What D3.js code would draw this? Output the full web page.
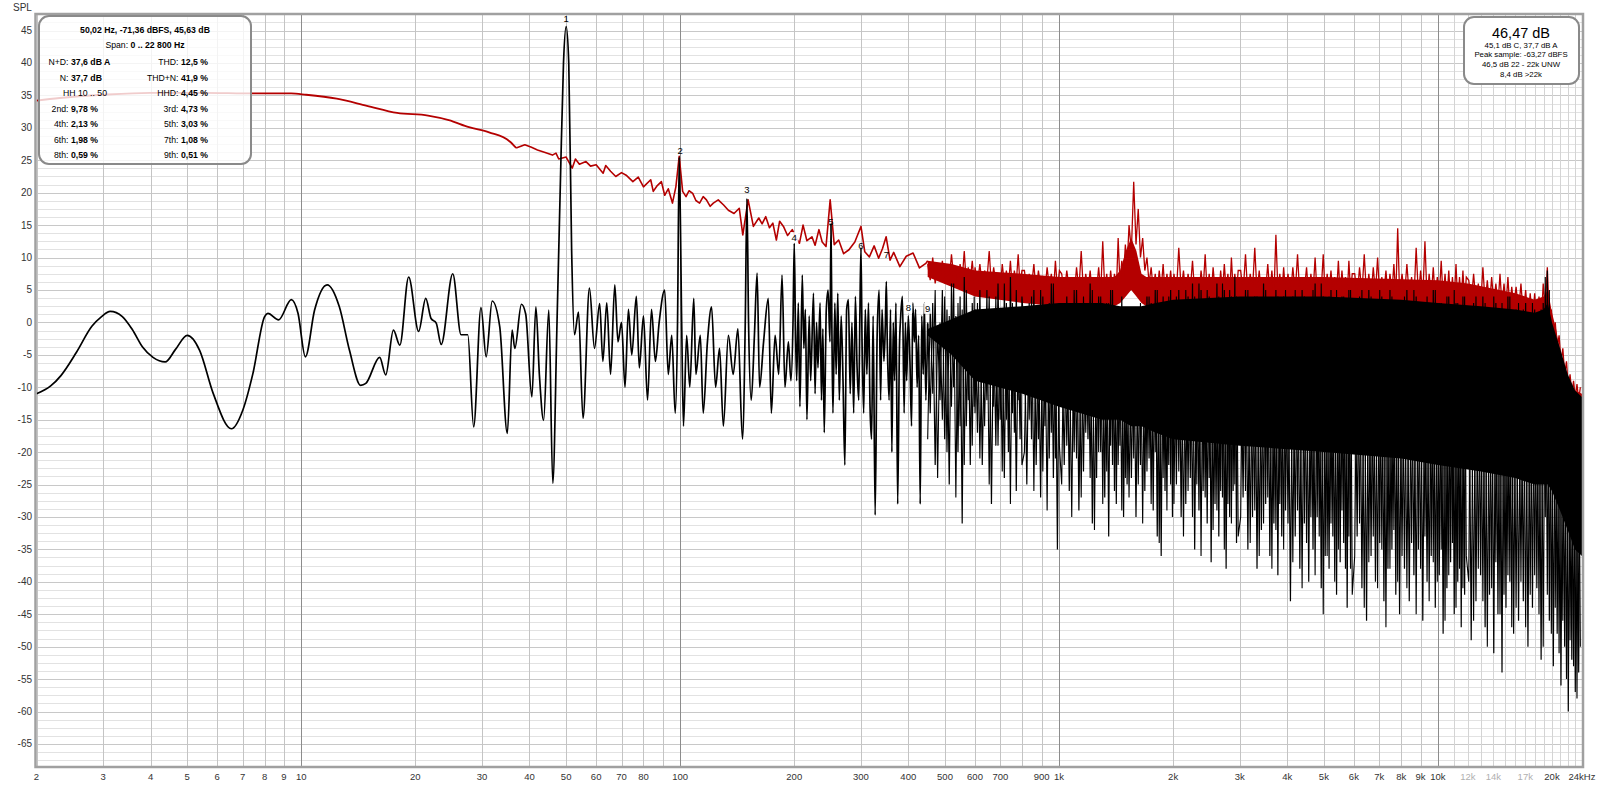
<!DOCTYPE html>
<html><head><meta charset="utf-8">
<script src="https://cdn.jsdelivr.net/npm/d3@7"></script>
<style>
html,body{margin:0;padding:0;background:#fff;}
svg{display:block;font-family:"Liberation Sans",Arial,sans-serif;}
</style></head><body>
<svg id="chart" width="1600" height="787"></svg>
<script>
// ---------------- DATA ----------------
const xTickFreqs  = [2,3,4,5,6,7,8,9,10,20,30,40,50,60,70,80,100,200,300,400,500,600,700,900,1000,2000,3000,4000,5000,6000,7000,8000,9000,10000,12000,14000,17000,20000,24000];
const xTickLabels = ["2","3","4","5","6","7","8","9","10","20","30","40","50","60","70","80","100","200","300","400","500","600","700","900","1k","2k","3k","4k","5k","6k","7k","8k","9k","10k","12k","14k","17k","20k","24kHz"];
const xTickMuted  = ["12k","14k","17k"];
const yTicks = [45,40,35,30,25,20,15,10,5,0,-5,-10,-15,-20,-25,-30,-35,-40,-45,-50,-55,-60,-65];

// red trace, smooth low part (Hz, dB)
const redSmoothF  = [2,2.3,3,4,5.5,7.5,9.4,10.3,12.4,14.9,17.9,21.6,24.5,27.7,31.3,35.5,36.9];
const redSmoothDb = [34.2,34.6,35.1,35.4,35.4,35.3,35.3,35.1,34.5,33.4,32.3,31.9,31.2,30.1,29.3,27.9,26.9];
// red trace, wiggly part 37-450 Hz
const redWigF  = [36.9,38.9,40.5,42,44,46,47,47.8,50,51.9,52.9,54.2,56.4,58,60,62.6,63.6,65.5,67.6,70,72,75,77.5,80,83.6,84.9,87,89.2,91,93,95.4,97.4,99.4,101.5,103.6,105.5,107.9,110,112.5,115,117.3,120,122.3,126,130.2,134,138.7,143.2,146.3,151.1,156,161.2,164.5,168.2,172,175.6,179.4,183,187.3,192,197.6,202,206.4,211,216,222.7,227,232.4,237,242.6,248.8,255,262,270,278.9,289,300,307,315.7,325,334,342,349.6,358,366,380,395,411.8,428,445,450];
const redWigDb = [26.9,27.4,27.0,26.6,26.2,25.8,26.1,25.2,25.5,23.8,25.2,24.4,24.8,24.1,24.3,23.0,24.2,23.3,22.5,23.1,22.7,21.7,22.4,20.9,22.0,20.2,21.1,21.7,19.6,20.6,18.4,20.9,25.6,20.2,19.4,20.3,19.9,18.8,18.4,19.4,18.9,17.9,18.4,18.9,18.1,17.3,16.8,17.6,13.5,18.9,14.8,16.1,15.2,16.3,14.6,15.3,12.7,15.6,14.8,13.4,14.3,13.1,12.2,15.0,12.6,13.2,11.9,14.3,12.4,11.7,18.9,12.0,12.7,10.6,11.2,12.4,14.8,10.9,10.1,11.8,9.9,11.4,13.2,9.6,10.8,8.6,10.2,10.7,8.4,9.1,9.5];

// black trace, low frequencies (Hz, dB)
const blackLowF  = [2,2.18,2.32,2.55,2.8,2.97,3.13,3.37,3.58,3.81,4.06,4.37,4.65,5.0,5.39,5.85,6.54,7.01,7.45,8.0,8.16,8.71,9.41,9.8,10.25,10.84,11.7,12.6,13.4,14.34,14.8,16.1,16.7,17.5,18.2,19.2,20.4,21.3,22.0,22.7,23.4,25.1,26.4,27.5,28.5,29.8,30.75,31.9,33.4,34.97,36.0,36.6,38.1,39.1,40.6,41.6,42.5,43.6,45.0,46.1,47.3,48.3,49.2,50.0,50.8,51.7,52.6,53.9,55.4,57.6,59.4,61.3];
const blackLowDb = [-11,-9.8,-8.2,-4.6,-0.6,0.9,1.7,0.9,-1.1,-3.8,-5.4,-6.1,-4.2,-2.0,-4.3,-10.9,-16.4,-13.5,-7.9,0.9,1.4,0.4,3.5,1.4,-5.3,1.9,5.8,2.4,-4.3,-9.7,-9.4,-5.4,-8.1,-1.2,-3.5,7.0,-1.4,3.7,0.6,-0.1,-3.4,7.5,-1.9,-1.9,-16.1,2.3,-5.3,3.3,-0.7,-17.1,-1.2,-4.0,2.8,1.3,-11.5,2.4,-8.1,-15.1,1.9,-24.8,0,22,40,45.6,40,11,-1.9,1.6,-14.8,5.3,-4.0,2.9];

// black trace, 60-450 Hz (Hz, dB)
const blackMidF  = [62.5,64,65.5,67.2,68.5,70,71.5,73,74.5,76.6,78,80,82,84,86,88,91,93,95,97,98.4,99.4,100.9,102,104,106,108.6,110,113,115,118,121,124,127,130,134,138,142,146,148.5,150,151.5,154,157,159.6,162,166,170.8,174,178,182,185.7,189,193,196,198.5,
200,201.5,203,205,207,210,212,214,216,219,221,224.8,227,229,231,234,236,238,240,243,245.7,248.5,250,251.5,253,256,258,260.6,263,266,269,272,275,278,281,284,287,290,293,296,298,300,302,305,308,311,314,317,320,323,327,331,335,338,341,345,348,350,352,356,359,362,365,368,371,375,379,382,386,390,393,396,400,404,408,411,415,418,422,426,430,434,438,441,445,450];
const blackMidDb = [-6,3,-8,5.8,-3,0,-10,2,-5,4,-7,1,-12,2,-6,0,5,-8,-2,-14,0,25.5,0,-16,-2,-10,3.7,-8,-2,-14,-3,2.4,-10,-4,-16,-2,-8,-1,-18,0,19.1,0,-12,-2,7.6,-10,-3,3.7,-14,-2,-8,7.3,-10,-3,-9,0,
12.2,-1,-9,3,-13,7.3,-4,2,-15,1,-9,4.5,-11,0,-7,3,-12,-1,-17,2,5,-3,15.2,-2,-14,3,-8,4.5,-12,1,-9,-22,2,3.5,-11,0,-14,4,-7,-12,1,11.5,-3,-14,2,-8,3,-13,-18,1,-29.7,-2,5,-12,2,-6,0,6.3,-3,-12,2,-20,0,-9,3,-28,-4,1,4,-14,0,-9,1.0,-6,-16,3,-3,2,-10,-2,-28,1,-8,3,-12,-0.2];

// dense FFT region 450 Hz - 24 kHz: bin frequencies
const noiseF = [
450,457,464,471,478,485,492,499,506,513,520,527,534,541,548,555,562,569,576,583,590,597,
600,609,618,627,636,645,654,663,672,681,690,699,708,717,726,735,744,753,762,771,780,789,798,
810,822,834,846,858,870,882,894,906,918,930,942,954,966,978,990,1002,
1016,1032,1048,1064,1080,1096,1112,1128,1144,1160,1176,1192,1208,1224,1240,1256,1272,1288,1304,1320,1336,1352,1368,1384,1400,1416,1432,1448,1464,1480,1496,1512,
1530,1552,1574,1596,1618,1640,1662,1684,1706,1728,1750,1772,1794,1816,1838,1860,1882,1904,1926,1948,1970,1992,
2010,2040,2070,2100,2130,2160,2190,2220,2250,2280,2310,2340,2370,2400,2430,2460,2490,2520,2550,2580,2610,2640,2670,2700,2730,2760,2790,2820,2850,2880,2910,2940,2970,
3015,3060,3105,3150,3195,3240,3285,3330,3375,3420,3465,3510,3555,3600,3645,3690,3735,3780,3825,3870,3915,3960,
4020,4080,4140,4200,4260,4320,4380,4440,4500,4560,4620,4680,4740,4800,4860,4920,4980,5040,5100,5160,5220,5280,5340,5400,5460,5520,5580,5640,5700,5760,5820,5880,5940,
6030,6120,6210,6300,6390,6480,6570,6660,6750,6840,6930,7020,7110,7200,7290,7380,7470,7560,7650,7740,7830,7920,
8040,8160,8280,8400,8520,8640,8760,8880,9000,9120,9240,9360,9480,9600,9720,9840,9960,10080,10200,10320,10440,10560,10680,10800,10920,11040,11160,11280,11400,11520,11640,11760,11880,
12060,12240,12420,12600,12780,12960,13140,13320,13500,13680,13860,14040,14220,14400,14580,14760,14940,15120,15300,15480,15660,15840,
16080,16320,16560,16800,17040,17280,17520,17760,18000,18240,18480,18720,18960,19200,19440,19680,19920,20160,20400,20640,20880,21120,21360,21600,21840,22080,22320,22560,22800,23040,23280,23520,23760];
// black, read peaks/dips (two interleaved traces of the same spectrum)
const blackNoiseDb = [
0,-14,3,-22,-1,-12,5,-18,2,-25,6,-10,1,-20,4,-31,7,-16,0,-22,3,-13,
2,-17,5,-22,-1,-12,4,-28,1,-19,6,-15,0,-24,3,-20,7,-14,2,-26,-1,-18,4,
-2,-25,3,-18,5,-22,0,-27,4,-16,2,-21,6,-24,1,-35,3,
-1,-22,4,-26,2,-20,5,-29,0,-23,3,-18,6,-31,1,-24,4,-20,-1,-27,3,-33,5,-22,0,-28,2,-19,4,-30,-2,-25,
-2,-24,0,-30,1,-22,2,-26,4,-21,3,-29,5,-33,2,-36,4,-26,1,-22,5,-30,
3,-25,5,-30,1,-28,4,-24,6,-35,2,-29,5,-26,0,-31,4,-37,3,-28,6,-33,2,-27,5,-38,1,-30,4,-26,7,-34,3,
-1,-27,5,-35,2,-30,4,-38,0,-32,6,-28,3,-36,1,-31,5,-39,2,-33,4,-29,
0,-43,4,-33,2,-38,5,-31,1,-40,3,-35,6,-30,2,-41,4,-36,0,-38,5,-33,3,-42,1,-37,4,-34,2,-44,5,-38,3,
2,-33,4,-41,1,-46,5,-36,3,-40,0,-34,4,-43,2,-38,5,-35,1,-42,3,-45,
3,-38,5,-43,1,-39,4,-35,2,-46,0,-40,3,-36,5,-44,1,-39,3,-48,2,-41,4,-37,0,-45,3,-40,1,-47,4,-42,2,
0,-49,3,-43,1,-39,4,-47,2,-42,0,-51,3,-45,1,-54,2,-44,4,-40,0,-48,
2,-46,1,-43,3,-50,0,-44,2,-41,1,-52,3,-30,8,-46,-1,-53,-3,-48,-5,-56,-7,-50,-9,-60,-10,-52,-11,-57,-12,-54,-12];
const blackNoiseDb2 = [
-18,2,-11,5,-24,0,-15,4,-20,1,-13,6,-27,3,-16,2,-22,5,-12,1,-19,4,
-14,3,-21,0,-16,5,-25,2,-13,4,-19,1,-23,6,-15,0,-28,3,-17,5,-12,2,-22,
-20,1,-15,4,-26,2,-18,5,-23,0,-29,3,-17,6,-21,2,-19,
-25,3,-19,0,-30,5,-21,2,-27,4,-17,1,-24,5,-32,2,-20,4,-28,0,-23,3,-19,5,-26,1,-22,-1,-29,0,-24,-2,
-27,-1,-21,1,-25,3,-31,2,-23,4,-28,1,-20,5,-34,3,-24,2,-29,4,-25,3,
-28,4,-23,2,-33,5,-26,1,-30,4,-25,6,-36,2,-27,5,-24,3,-32,1,-29,4,-26,6,-35,2,-28,5,-31,3,-25,4,-33,
-30,3,-26,5,-34,1,-29,4,-36,2,-31,5,-27,3,-38,1,-32,4,-28,2,-35,5,
-31,3,-37,5,-29,2,-41,4,-34,1,-30,5,-39,3,-33,6,-45,2,-36,4,-31,1,-40,5,-35,3,-29,4,-38,2,-33,5,-42,
-36,3,-31,5,-44,2,-37,4,-33,1,-41,5,-35,3,-47,2,-38,4,-32,1,-40,3,
-36,4,-41,2,-34,5,-45,3,-38,1,-33,4,-43,2,-37,5,-40,3,-35,1,-46,4,-39,2,-34,5,-44,3,-38,1,-41,4,-36,
-40,2,-46,4,-38,1,-43,3,-50,2,-41,4,-37,1,-45,3,-42,2,-39,4,-47,1,
-44,3,-40,2,-47,1,-42,3,-39,0,-45,2,-50,7,-42,5,-48,-2,-44,-4,-51,-6,-46,-8,-55,-10,-49,-11,-53,-12,-58,-12,-50];
// red, read peaks/dips
const redNoiseDb = [
9,6.5,10,6,8.5,7,9.5,6,8,6.5,10.5,7,8.5,6,9,6.5,11,6,8.5,6.5,9.5,6,
8.5,6,9,5.5,8,6.5,11,5.5,8.5,6,7.5,5,9,6,8,5.5,9.5,5,8,6,10.5,5.5,8,
8,5,7.5,5.5,9,4.5,8,5.5,7,5,8.5,5.5,7.5,4.5,9.5,5,8,
7.5,4.5,8,5,7,4,8.5,5,11,4.5,7.5,5,8,4,7,5,8.5,4.5,12.5,5,7.5,4,8,5,7.5,4.5,13,6,9.5,7,12,8.5,
15,11,21.7,12,17.5,10,13,8,10,6,8.5,5,7.5,4.5,8,5,9,4.5,7.5,5,8,4.5,
7.5,4.5,11.5,5,8,4,7.5,5,9.5,4.5,7,4,8,5,10.5,4.5,7.5,4,8.5,5,7,4,8,4.5,9,5,7.5,4,10,5,7.5,4.5,8,
8,4.5,10.5,4,7.5,5,11.5,4.5,8,4,7,5,9,4.5,8,4,13.5,5,7.5,4,8.5,4.5,
7.5,4,8.5,4.5,10.5,4,7,5,8.5,4,7.5,4.5,10,4,7,5,10.5,4,7.5,4.5,8,4,7,4.5,9.5,4,8,4.5,7,4,9.5,4.5,7.5,
7.5,4,8.5,4.5,10.5,4,7.5,4,8.5,4.5,10,4,7,4.5,8,4,7.5,4.5,9,4,14.5,4.5,
7.5,4,9,4,7,3.5,11.5,4,8,4,12.5,3.5,7.5,4,8.5,3.5,7,4,9.5,3.5,7.5,3.5,8,3,7,3.5,9,3,7,3.5,8,3,7,
6.5,3,7.5,3,6,2.5,8.5,3,6.5,2.5,7,3,6,2.5,7.5,2.5,6,2.5,7,2,5.5,2.5,
5.5,1.5,6,1,5,0.5,4.5,0,4.5,0,4,-0.5,6,2,8.5,0,2,-2,0,-4,-2,-6,-4,-8,-6,-10,-8,-11,-9,-11.5,-9.5,-12,-10];

// solid cores of the dense region (Hz, dB)
const redBandF   = [450,520,600,800,1000,1400,1450,1500,1550,1600,1650,1700,2000,5000,10000,12000,16000,18000,19000,19500,20000,20500,21000,22000,23000,24000];
const redBandTop = [9.5,9,8,7.5,7,7,8,11,13,11,7.5,7,7,7,6.5,6,4.5,3.5,4,5,1.5,-1,-4.5,-9,-10.5,-11];
const redBandBot = [7,5.5,4,3,2.5,2.5,3,4,5,4,3,2.5,2.5,2.5,2,1.5,0,-1,-1,0,-2.5,-4,-7,-11,-12,-12.5];
const bandF   = [450,520,600,800,1000,1300,1450,1550,1650,1800,2000,3000,5000,8000,10000,13000,16000,18000,19000,19500,20000,21000,22000,23000,24000];
const bandTop = [-1,0.5,2,2.5,3,3,2.5,2.5,2.5,3,3.5,4,4,3.5,3,2.5,2,1.5,2,3,0,-4,-8,-10.5,-11.5];
const bandBot = [-2,-5,-9,-11,-13,-15,-15,-16,-16,-17,-18,-19,-20,-21,-22,-23,-24,-25,-25,-25,-26,-29,-32,-35,-36];

// harmonic markers
const harmF     = [50,100,150,200,250,300,350,400,450];
const harmLabDb = [46.9,26.5,20.5,13.0,15.5,11.8,10.5,2.2,2.1];
const harmBoxed = [false,false,false,true,false,false,false,true,true];

// info boxes
const infoTitle = "50,02 Hz, -71,36 dBFS, 45,63 dB";
const infoSpanLabel = "Span: ", infoSpanValue = "0 .. 22 800 Hz";
const infoLeftLabels  = ["N+D:","N:","","2nd:","4th:","6th:","8th:"];
const infoLeftValues  = ["37,6 dB A","37,7 dB","","9,78 %","2,13 %","1,98 %","0,59 %"];
const infoRightLabels = ["THD:","THD+N:","HHD:","3rd:","5th:","7th:","9th:"];
const infoRightValues = ["12,5 %","41,9 %","4,45 %","4,73 %","3,03 %","1,08 %","0,51 %"];
const infoHH = "HH 10 .. 50";
const levelMain = "46,47 dB";
const levelLines = ["45,1 dB C, 37,7 dB A","Peak sample: -63,27 dBFS","46,5 dB 22 - 22k UNW","8,4 dB >22k"];

// ---------------- CHART ----------------
const svg = d3.select("#chart");
const L = 36.5, R = 1582, T = 15, B = 766;
const x = d3.scaleLog().domain([2, 24000]).range([L, R]);
const y = d3.scaleLinear().domain([47.4, -68.4]).range([T, B]);

svg.append("defs").append("clipPath").attr("id","plot")
  .append("rect").attr("x",L).attr("y",T).attr("width",R-L).attr("height",B-T);

// grid
const g = svg.append("g").attr("clip-path","url(#plot)");
const hLines = d3.range(-68.75, 47.6, 1.25);
g.selectAll(".hg").data(hLines).join("line")
  .attr("x1",L).attr("x2",R)
  .attr("y1",d=>Math.round(y(d))+0.5).attr("y2",d=>Math.round(y(d))+0.5)
  .attr("stroke",d=>(Math.abs(d%5)<1e-6)?"#c8c8c8":"#e2e2e2").attr("stroke-width",1);
const vLines = [];
[1,10,100,1000].forEach(dec=>{ for(let m=1;m<10;m++){ const f=m*dec; if(f>=2) vLines.push(f);} });
for(let f=10000; f<=24000; f+=1000) vLines.push(f);
g.selectAll(".vg").data(vLines).join("line")
  .attr("x1",d=>Math.round(x(d))+0.5).attr("x2",d=>Math.round(x(d))+0.5)
  .attr("y1",T).attr("y2",B)
  .attr("stroke",d=>[10,100,1000,10000].includes(d)?"#8c8c8c":(d>10000?"#d4d4d4":"#c4c4c4")).attr("stroke-width",1);

const red = "#b40000";
const pts = (fs,vs)=>fs.slice(0,Math.min(fs.length,vs.length)).map((f,i)=>[f,vs[i]]);
const lin = d3.line().x(d=>x(d[0])).y(d=>y(d[1]));
const smooth = d3.line().x(d=>x(d[0])).y(d=>y(d[1])).curve(d3.curveMonotoneX);

// red
g.append("path").attr("d", smooth(pts(redSmoothF,redSmoothDb)))
  .attr("fill","none").attr("stroke",red).attr("stroke-width",1.8);
g.append("path").attr("d", lin(pts(redWigF,redWigDb)))
  .attr("fill","none").attr("stroke",red).attr("stroke-width",1.6).attr("stroke-linejoin","round");
const redBand = redBandF.map((f,i)=>({f,t:redBandTop[i],b:redBandBot[i]}));
g.append("path").attr("d", d3.area().x(d=>x(d.f)).y0(d=>y(d.b)).y1(d=>y(d.t))(redBand))
  .attr("fill",red);
g.append("path").attr("d", lin(pts(noiseF,redNoiseDb)))
  .attr("fill","none").attr("stroke",red).attr("stroke-width",1.3);

// black
g.append("path").attr("d", smooth(pts(blackLowF,blackLowDb).concat(pts(blackMidF,blackMidDb))))
  .attr("fill","none").attr("stroke","#000").attr("stroke-width",1.7).attr("stroke-linejoin","round");
const band = bandF.map((f,i)=>({f,t:bandTop[i],b:bandBot[i]}));
g.append("path").attr("d", d3.area().x(d=>x(d.f)).y0(d=>y(d.b)).y1(d=>y(d.t))(band))
  .attr("fill","#000");
g.append("path").attr("d", lin(pts(noiseF,blackNoiseDb)))
  .attr("fill","none").attr("stroke","#000").attr("stroke-width",1.2);
g.append("path").attr("d", lin(pts(noiseF,blackNoiseDb2)))
  .attr("fill","none").attr("stroke","#000").attr("stroke-width",1.1);

// harmonic labels
const hl = g.selectAll(".hl").data(harmF).join("g")
  .attr("transform",(d,i)=>`translate(${x(d)},${y(harmLabDb[i])})`);
hl.filter((d,i)=>harmBoxed[i]).append("rect").attr("x",-4).attr("y",-6).attr("width",8).attr("height",11).attr("fill","#fff").attr("opacity",0.85);
hl.append("text").attr("text-anchor","middle").attr("dy","0.35em").attr("font-size",9.5).attr("fill","#000").text((d,i)=>i+1);

// frame
svg.append("rect").attr("x",L-1).attr("y",T-1).attr("width",R-L+2).attr("height",B-T+2)
  .attr("fill","none").attr("stroke","#a0a0a0").attr("stroke-width",2.5);

// axes labels
svg.append("text").attr("x",13).attr("y",11).attr("font-size",10).attr("fill","#333").text("SPL");
svg.selectAll(".yl").data(yTicks).join("text")
  .attr("x",32).attr("y",d=>y(d)).attr("dy","0.35em").attr("text-anchor","end")
  .attr("font-size",10).attr("fill","#333").text(d=>d);
svg.selectAll(".xl").data(xTickFreqs).join("text")
  .attr("x",d=>x(d)).attr("y",780).attr("text-anchor","middle")
  .attr("font-size",9.5).attr("fill",(d,i)=>xTickMuted.includes(xTickLabels[i])?"#b0b0b0":"#333")
  .text((d,i)=>xTickLabels[i]);

// left info box
const ib = svg.append("g");
ib.append("rect").attr("x",39).attr("y",16).attr("width",212).attr("height",148).attr("rx",10)
  .attr("fill","#fff").attr("fill-opacity",0.8).attr("stroke","#8a8a8a").attr("stroke-width",2);
ib.append("text").attr("x",145).attr("y",32.5).attr("text-anchor","middle").attr("font-size",8.7).attr("font-weight","bold").text(infoTitle);
const sp = ib.append("text").attr("x",145).attr("y",47.5).attr("text-anchor","middle").attr("font-size",8.7);
sp.append("tspan").text(infoSpanLabel); sp.append("tspan").attr("font-weight","bold").text(infoSpanValue);
const rowY = [62,77.5,93,108.6,124.1,139.7,155.3];
rowY.forEach((ry,i)=>{
  if(infoLeftLabels[i]){
    ib.append("text").attr("x",68.5).attr("y",ry+3).attr("text-anchor","end").attr("font-size",8.7).text(infoLeftLabels[i]);
    ib.append("text").attr("x",71).attr("y",ry+3).attr("font-size",8.7).attr("font-weight","bold").text(infoLeftValues[i]);
  } else {
    ib.append("text").attr("x",107).attr("y",ry+3).attr("text-anchor","end").attr("font-size",8.7).text(infoHH);
  }
  ib.append("text").attr("x",178.5).attr("y",ry+3).attr("text-anchor","end").attr("font-size",8.7).text(infoRightLabels[i]);
  ib.append("text").attr("x",181).attr("y",ry+3).attr("font-size",8.7).attr("font-weight","bold").text(infoRightValues[i]);
});

// right level box
const rb = svg.append("g");
rb.append("rect").attr("x",1464).attr("y",17).attr("width",115).attr("height",67).attr("rx",10)
  .attr("fill","#fff").attr("stroke","#8a8a8a").attr("stroke-width",2);
rb.append("text").attr("x",1521).attr("y",38).attr("text-anchor","middle").attr("font-size",14.5).text(levelMain);
levelLines.forEach((t,i)=>rb.append("text").attr("x",1521).attr("y",47.5+i*9.9).attr("text-anchor","middle").attr("font-size",7.8).text(t));
</script></body></html>
